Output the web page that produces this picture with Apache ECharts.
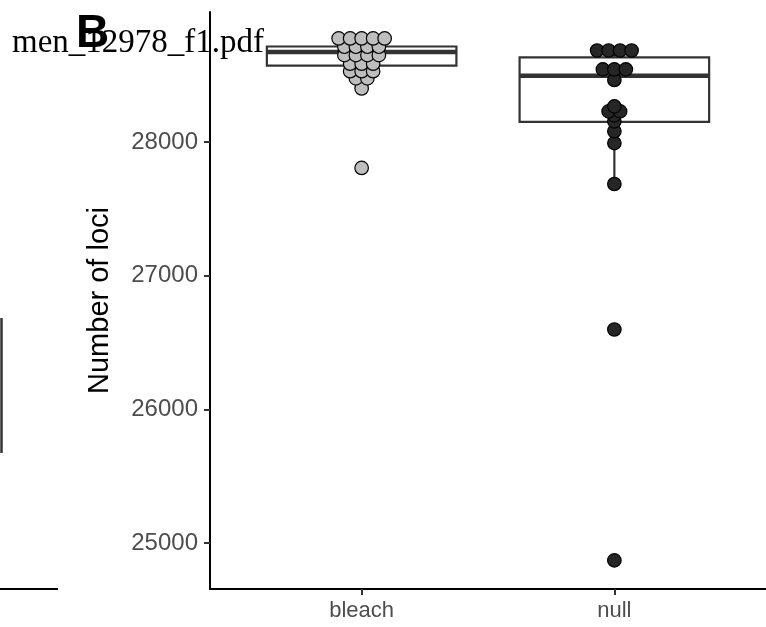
<!DOCTYPE html>
<html>
<head>
<meta charset="utf-8">
<script src="https://cdn.jsdelivr.net/npm/echarts@6/dist/echarts.min.js"></script>
<style>
html, body { margin: 0; padding: 0; background: #fff; }
#chart { width: 766px; height: 627px; }
</style>
</head>
<body>
<div id="chart"></div>
<script>
var categories = ['bleach', 'null'];
var yTicks = [25000, 26000, 27000, 28000];

// number of loci per sample
var bleachLoci = [28776, 28776, 28776, 28776, 28776,
	28714, 28714, 28714, 28714,
	28651, 28651, 28651, 28651,
	28587, 28587, 28587,
	28531, 28531, 28531,
	28477, 28477,
	28402,
	27807];
var nullLoci = [28686, 28686, 28686, 28686,
	28545, 28545, 28545,
	28465,
	28268, 28230, 28230, 28200,
	28156, 28082, 27993, 27687,
	26598, 24870];

// [lower whisker, Q1, median, Q3, upper whisker]
var bleachBox = [28402, 28572, 28675, 28716, 28776];
var nullBox = [27687, 28151, 28497, 28634, 28686];

var lineColor = '#333333';

// centre dots that share a value side by side, like a beeswarm
function swarm(values, pos, step) {
	var counts = {};
	values.forEach(function(v) { counts[v] = (counts[v] || 0) + 1; });
	var out = [];
	Object.keys(counts).forEach(function(k) {
		var n = counts[k];
		for (var i = 0; i < n; i++) {
			out.push([pos + (i - (n - 1) / 2) * step, +k]);
		}
	});
	return out;
}

function renderBox(params, api) {
	var x = api.value(0), half = 0.375;
	var lo = api.coord([x, api.value(1)]);
	var q1 = api.coord([x, api.value(2)]);
	var q3 = api.coord([x, api.value(4)]);
	var hi = api.coord([x, api.value(5)]);
	var tl = api.coord([x - half, api.value(4)]);
	var br = api.coord([x + half, api.value(2)]);
	var mL = api.coord([x - half, api.value(3)]);
	var mR = api.coord([x + half, api.value(3)]);
	return {
		type: 'group',
		children: [{
			type: 'line',
			shape: { x1: hi[0], y1: hi[1], x2: q3[0], y2: q3[1] },
			style: { stroke: lineColor, lineWidth: 2.2 }
		}, {
			type: 'line',
			shape: { x1: lo[0], y1: lo[1], x2: q1[0], y2: q1[1] },
			style: { stroke: lineColor, lineWidth: 2.2 }
		}, {
			type: 'rect',
			shape: { x: tl[0], y: tl[1], width: br[0] - tl[0], height: br[1] - tl[1] },
			style: { fill: '#ffffff', stroke: lineColor, lineWidth: 2.2 }
		}, {
			type: 'line',
			shape: { x1: mL[0], y1: mL[1], x2: mR[0], y2: mR[1] },
			style: { stroke: lineColor, lineWidth: 4.5 }
		}]
	};
}

var chart = echarts.init(document.getElementById('chart'));
var option = {
	animation: false,
	backgroundColor: '#ffffff',
	grid: { left: 210, top: 12, width: 559, height: 577 },
	xAxis: {
		type: 'value',
		min: 0.4,
		max: 2.6,
		splitLine: { show: false },
		axisLine: { lineStyle: { color: '#000', width: 2 } },
		axisTick: { customValues: [1, 2], length: 6, lineStyle: { color: lineColor, width: 2 } },
		axisLabel: {
			customValues: [1, 2],
			margin: 11,
			fontSize: 22,
			fontFamily: 'Liberation Sans',
			color: '#4d4d4d',
			formatter: function(v) { return categories[Math.round(v) - 1]; }
		}
	},
	yAxis: {
		type: 'value',
		min: 24656,
		max: 28974,
		name: 'Number of loci',
		nameLocation: 'middle',
		nameRotate: 90,
		nameGap: 96,
		nameTextStyle: { fontSize: 29, fontFamily: 'Liberation Sans', color: '#000' },
		splitLine: { show: false },
		axisLine: { lineStyle: { color: '#000', width: 2 } },
		axisTick: { customValues: yTicks, length: 6, lineStyle: { color: lineColor, width: 2 } },
		axisLabel: {
			customValues: yTicks,
			margin: 12,
			fontSize: 24,
			fontFamily: 'Liberation Sans',
			color: '#4d4d4d',
			formatter: function(v) { return String(v); }
		}
	},
	series: [{
		type: 'custom',
		renderItem: renderBox,
		encode: { x: 0, y: [1, 2, 3, 4, 5] },
		data: [[1].concat(bleachBox), [2].concat(nullBox)],
		z: 1
	}, {
		type: 'scatter',
		symbolSize: 13.5,
		itemStyle: { color: '#bebebe', borderColor: '#000', borderWidth: 1.2, opacity: 1 },
		data: swarm(bleachLoci, 1, 0.0455),
		z: 3
	}, {
		type: 'scatter',
		symbolSize: 13.5,
		itemStyle: { color: '#262626', borderColor: '#000', borderWidth: 1.2, opacity: 1 },
		data: swarm(nullLoci, 2, 0.0455),
		z: 3
	}],
	graphic: [{
		type: 'line',
		shape: { x1: 1.5, y1: 318, x2: 1.5, y2: 453 },
		style: { stroke: lineColor, lineWidth: 2.5 }
	}, {
		type: 'line',
		shape: { x1: 0, y1: 589, x2: 58, y2: 589 },
		style: { stroke: '#000', lineWidth: 2 }
	}, {
		type: 'text',
		left: 12,
		top: 27,
		z: 10,
		style: { text: 'men_12978_f1.pdf', font: '33px "Liberation Serif"', fill: '#000' }
	}, {
		type: 'text',
		left: 76,
		top: 11,
		z: 11,
		style: { text: 'B', font: 'bold 46px "Liberation Sans"', fill: '#000' }
	}]
};
chart.setOption(option);
</script>
</body>
</html>
